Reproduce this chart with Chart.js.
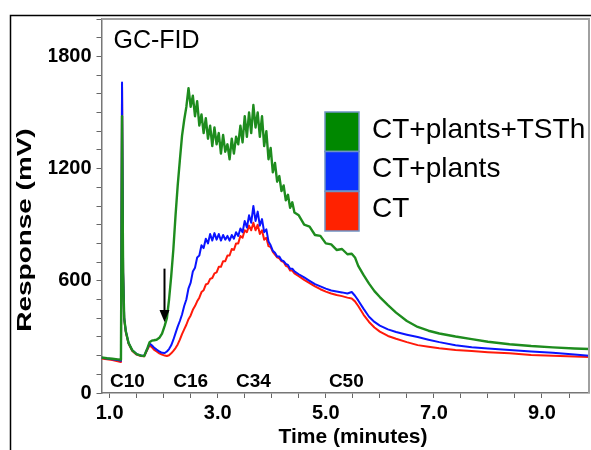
<!DOCTYPE html>
<html>
<head>
<meta charset="utf-8">
<title>GC-FID</title>
<script src="https://cdn.jsdelivr.net/npm/chart.js@4.4.1/dist/chart.umd.min.js"></script>
<style>
  html, body { margin: 0; padding: 0; background: #fff; }
  #gcChart { display: block; }
</style>
</head>
<body>
<canvas id="gcChart" width="591" height="450"></canvas>
<script>
/*--------------------------------------------------------------------
GC-FID chromatogram
--------------------------------------------------------------------*/

const timeMin = [
    0.85, 0.95, 1.05, 1.15, 1.21, 1.23, 1.25, 1.27, 1.30, 1.35, 1.42, 1.50, 1.58, 1.64, 1.70, 1.74,
    1.78, 1.82, 1.87, 1.92, 1.97, 2.02, 2.06, 2.10, 2.14, 2.18, 2.22, 2.26, 2.30, 2.34, 2.38,
    2.42, 2.46, 2.50, 2.54, 2.58, 2.62, 2.66, 2.70, 2.74, 2.78,
    2.82, 2.86, 2.90, 2.94, 2.98, 3.02, 3.06, 3.10, 3.14, 3.18,
    3.22, 3.26, 3.30, 3.34, 3.38, 3.42, 3.46, 3.50, 3.54, 3.58,
    3.62, 3.66, 3.70, 3.74, 3.78, 3.82, 3.86, 3.90, 3.94, 3.98,
    4.02, 4.06, 4.10, 4.14, 4.18, 4.22, 4.26, 4.30, 4.34, 4.38, 4.42,
    4.50, 4.60, 4.70, 4.80, 4.90, 5.00, 5.10, 5.20, 5.30, 5.40,
    5.48, 5.54, 5.60, 5.70, 5.80, 5.90, 6.00, 6.15, 6.30, 6.50, 6.70, 6.90, 7.10,
    7.40, 7.70, 8.00, 8.40, 8.80, 9.20, 9.60, 9.90
];

// CT+plants+TSTh (green)
const ctPlantsTsth = [
    190, 186, 183, 180, 178, 1480, 640, 400, 330, 268, 228, 208, 200, 198, 240, 272,
    280, 282, 285, 295, 318, 360, 400, 500, 625, 770, 950, 1110, 1245, 1375, 1460,
    1530, 1630, 1530, 1590, 1480, 1560, 1430, 1490, 1390, 1470,
    1360, 1430, 1320, 1420, 1330, 1390, 1280, 1380, 1290, 1330,
    1250, 1360, 1280, 1370, 1330, 1430, 1340, 1480, 1370, 1500,
    1390, 1540, 1420, 1500, 1370, 1480, 1320, 1400, 1250, 1310,
    1180, 1230, 1130, 1160, 1080, 1110, 1030, 1060, 990, 1020, 965,
    950, 900, 890, 845, 840, 800, 795, 765, 770, 742,
    745, 725, 680, 630, 585, 545, 513, 470, 430, 385, 353, 333, 318,
    302, 288, 274, 261, 251, 244, 238, 235
];

// CT+plants (blue)
const ctPlants = [
    188, 184, 180, 176, 172, 1660, 650, 400, 330, 268, 228, 208, 200, 198, 238, 265,
    255, 243, 232, 222, 215, 214, 222, 235, 255, 285, 320, 355, 385, 420, 465,
    500, 560, 590, 650, 670, 725, 735, 790, 775, 825,
    800, 850, 815, 855, 820, 850, 815, 845, 820, 840,
    815, 845, 825, 860, 840, 880, 860, 920, 885, 950,
    910, 1000, 920, 970, 895, 930, 860, 875, 810, 790,
    760, 750, 730, 730, 710, 705, 690, 685, 665, 665, 650,
    635, 618, 600, 582, 570, 558, 548, 543, 538, 532,
    540, 520, 495, 450, 408, 380, 360, 340, 326, 312, 299, 285, 272,
    255, 245, 238, 230, 222, 215, 206, 198
];

// CT (red)
const ctOnly = [
    184, 180, 176, 170, 166, 1640, 640, 395, 325, 265, 225, 205, 198, 196, 232, 255,
    245, 232, 222, 212, 205, 200, 198, 202, 212, 225, 240, 260, 285, 315, 340,
    365, 395, 415, 445, 465, 490, 510, 540, 550, 580,
    585, 610, 615, 640, 645, 675, 675, 705, 705, 735,
    735, 770, 765, 800, 800, 840, 830, 870, 860, 895,
    870, 910, 870, 900, 850, 870, 820, 830, 785, 780,
    755, 740, 725, 720, 705, 700, 680, 675, 655, 655, 640,
    625, 605, 588, 570, 555, 542, 532, 524, 518, 510,
    505, 490, 465, 418, 380, 350, 328, 305, 290, 272, 256, 247, 239,
    230, 224, 218, 212, 203, 199, 195, 192
];

const seriesNames = ["CT+plants+TSTh", "CT+plants", "CT"];
const lineColors = ["#1e8c1e", "#0a14ff", "#ff1a0a"];
const legendColors = ["#008800", "#0a32ff", "#ff2200"];

const xTickValues = [1.0, 1.5, 2.0, 2.5, 3.0, 3.5, 4.0, 4.5, 5.0, 5.5, 6.0, 6.5, 7.0, 7.5, 8.0, 8.5, 9.0, 9.5];
const xTickLabels = [1.0, 3.0, 5.0, 7.0, 9.0];
const yTickValues = [0, 100, 200, 300, 400, 500, 600, 700, 800, 900, 1000,
                     1100, 1200, 1300, 1400, 1500, 1600, 1700, 1800, 1900, 2000];
const yTickLabels = [0, 600, 1200, 1800];

// carbon-number markers (label, retention time)
const carbonMarks = [["C10", 1.33], ["C16", 2.50], ["C34", 3.66], ["C50", 5.38]];
const arrowAt = { time: 2.0, from: 665, to: 380 };

const FONT = '"Liberation Sans", Arial, sans-serif';

function toPoints(values) {
    return timeMin.map((t, i) => ({ x: t, y: values[i] }));
}

/*--------------------------------------------------------------------
Overlay: frame, title text, legend, markers, arrow, axis titles
--------------------------------------------------------------------*/
const overlayPlugin = {
    id: "gcOverlay",
    afterDraw(chart) {
        const { ctx, chartArea: a } = chart;
        const x = chart.scales.x;
        const y = chart.scales.y;
        ctx.save();

        // outer figure frame
        ctx.strokeStyle = "#000";
        ctx.lineWidth = 1.5;
        ctx.beginPath();
        ctx.moveTo(10.5, 450);
        ctx.lineTo(10.5, 15.5);
        ctx.lineTo(591, 15.5);
        ctx.stroke();

        // plot box top / right
        ctx.strokeStyle = "#a0a0a0";
        ctx.lineWidth = 2;
        ctx.beginPath();
        ctx.moveTo(a.left, a.top);
        ctx.lineTo(a.right, a.top);
        ctx.lineTo(a.right, a.bottom);
        ctx.stroke();

        ctx.fillStyle = "#000";
        ctx.font = "25px " + FONT;
        ctx.textAlign = "left";
        ctx.textBaseline = "alphabetic";
        ctx.fillText("GC-FID", a.left + 12, a.top + 29);

        // carbon markers
        ctx.font = "bold 19px " + FONT;
        ctx.textAlign = "center";
        carbonMarks.forEach(([label, t]) => {
            ctx.fillText(label, x.getPixelForValue(t), a.bottom - 6);
        });

        // arrow
        const ax = Math.round(x.getPixelForValue(arrowAt.time)) + 0.5;
        const ay0 = y.getPixelForValue(arrowAt.from);
        const ay1 = y.getPixelForValue(arrowAt.to);
        ctx.strokeStyle = "#000";
        ctx.lineWidth = 2;
        ctx.beginPath();
        ctx.moveTo(ax, ay0);
        ctx.lineTo(ax, ay1 - 10);
        ctx.stroke();
        ctx.beginPath();
        ctx.moveTo(ax - 5, ay1 - 12);
        ctx.lineTo(ax + 5, ay1 - 12);
        ctx.lineTo(ax, ay1);
        ctx.closePath();
        ctx.fill();

        // legend
        const boxTop = [112, 151.5, 191.5];
        const baselines = [138, 177, 217];
        seriesNames.forEach((name, i) => {
            ctx.fillStyle = legendColors[i];
            ctx.fillRect(325, boxTop[i], 34, 39.5);
            ctx.strokeStyle = "#6f93c4";
            ctx.lineWidth = 1.5;
            ctx.strokeRect(325, boxTop[i], 34, 39.5);
            ctx.fillStyle = "#000";
            ctx.font = "28px " + FONT;
            ctx.textAlign = "left";
            ctx.fillText(name, 372, baselines[i]);
        });

        // axis titles
        ctx.font = "bold 21px " + FONT;
        ctx.textAlign = "center";
        ctx.fillText("Time (minutes)", 353, 443);

        ctx.translate(31, 230);
        ctx.rotate(-Math.PI / 2);
        ctx.scale(1.33, 1);
        ctx.fillText("Response (mV)", 0, 0);

        ctx.restore();
    }
};

/*--------------------------------------------------------------------
Chart
--------------------------------------------------------------------*/
const tickFont = { family: FONT, size: 20, weight: "bold" };
const series = [ctPlantsTsth, ctPlants, ctOnly];

new Chart(document.getElementById("gcChart"), {
    type: "line",
    data: {
        datasets: series.map((values, i) => ({
            label: seriesNames[i],
            data: toPoints(values),
            borderColor: lineColors[i],
            borderWidth: i === 0 ? 2.4 : 2,
            borderJoinStyle: "round",
            pointRadius: 0,
            tension: 0,
            fill: false
        }))
    },
    options: {
        responsive: false,
        animation: false,
        devicePixelRatio: 1,
        layout: { padding: { left: 49, right: 2, top: 19, bottom: 0 } },
        plugins: {
            legend: { display: false },
            tooltip: { enabled: false }
        },
        scales: {
            x: {
                type: "linear",
                min: 0.85,
                max: 9.87,
                afterBuildTicks: s => { s.ticks = xTickValues.map(v => ({ value: v })); },
                afterFit: s => { s.height = 57; },
                ticks: {
                    autoSkip: false,
                    maxRotation: 0,
                    padding: 3,
                    color: "#000",
                    font: tickFont,
                    callback: v => (xTickLabels.includes(v) ? v.toFixed(1) : "")
                },
                grid: { drawOnChartArea: false, tickLength: 5, color: "#666" },
                border: { color: "#777", width: 1.5 }
            },
            y: {
                min: 0,
                max: 2000,
                afterBuildTicks: s => { s.ticks = yTickValues.map(v => ({ value: v })); },
                afterFit: s => { s.width = 52.5; },
                ticks: {
                    autoSkip: false,
                    padding: 5,
                    color: "#000",
                    font: tickFont,
                    callback: v => (yTickLabels.includes(v) ? String(v) : "")
                },
                grid: { drawOnChartArea: false, tickLength: 5, color: "#666" },
                border: { color: "#777", width: 1.5 }
            }
        }
    },
    plugins: [overlayPlugin]
});
</script>
</body>
</html>
